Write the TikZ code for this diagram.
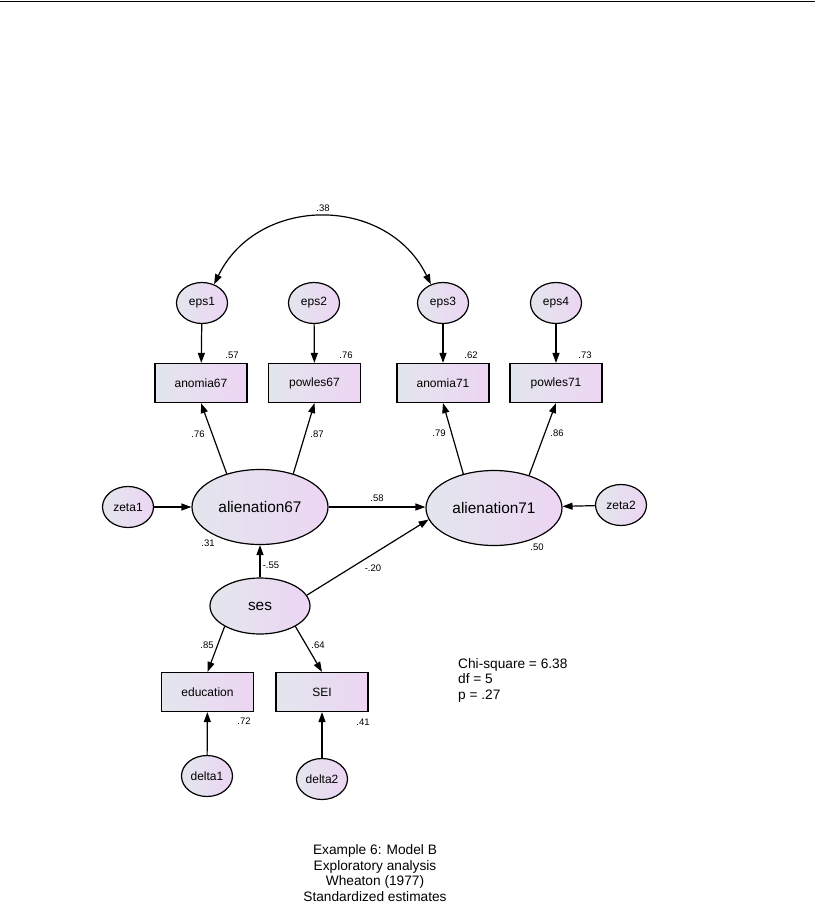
\documentclass[tikz,border=0pt]{standalone}
\usepackage{fontspec}
\setmainfont{Liberation Sans}
\usetikzlibrary{shapes.geometric,arrows.meta}
\definecolor{gleft}{RGB}{226,230,237}
\definecolor{gright}{RGB}{237,213,243}
\tikzset{
  shadefill/.style={draw, line width=1.2pt, left color=gleft, right color=gright},
  obs/.style={shadefill, rectangle, minimum width=92pt, minimum height=39pt, inner sep=0pt, font=\fontsize{12}{14}\selectfont},
  latent/.style={shadefill, ellipse, minimum width=136pt, minimum height=75pt, inner sep=0pt, font=\fontsize{15.4}{18}\selectfont},
  midlatent/.style={shadefill, ellipse, minimum width=100pt, minimum height=56pt, inner sep=0pt, font=\fontsize{15.4}{18}\selectfont},
  err/.style={shadefill, ellipse, minimum width=51pt, minimum height=41pt, inner sep=0pt, font=\fontsize{12}{14}\selectfont},
  est/.style={font=\fontsize{9.5}{11}\selectfont, inner sep=0pt},
  arr/.style={-{Triangle[length=10pt,width=7pt]}, line width=1.2pt},
  cov/.style={{Triangle[length=10pt,width=7pt]}-{Triangle[length=10pt,width=7pt]}, line width=1.2pt},
  infotext/.style={font=\fontsize{13.7}{15.6}\selectfont, inner sep=0pt},
}
\begin{document}
\begin{tikzpicture}[x=1pt,y=1pt]
  \useasboundingbox (0,0) rectangle (817,-907);
  \draw[line width=1.5pt] (0,-1.5) -- (815,-1.5);
  % error terms of the indicators
  \node[err] (eps1) at (202,-303) {eps1};
  \node[err] (eps2) at (314,-303) {eps2};
  \node[err] (eps3) at (443,-303) {eps3};
  \node[err] (eps4) at (556,-303) {eps4};
  % indicators
  \node[obs] (anomia67) at (201,-383) {anomia67};
  \node[obs] (powles67) at (314.5,-383) {powles67};
  \node[obs] (anomia71) at (443,-383) {anomia71};
  \node[obs] (powles71) at (556,-383) {powles71};
  % latent variables
  \node[latent] (alien67) at (260,-507) {alienation67};
  \node[latent] (alien71) at (494,-508) {alienation71};
  \node[err] (zeta1) at (128,-507) {zeta1};
  \node[err] (zeta2) at (621,-505) {zeta2};
  \node[midlatent] (ses) at (260,-606) {ses};
  % ses indicators
  \node[obs] (education) at (207.5,-692) {education};
  \node[obs] (SEI) at (322,-692) {SEI};
  \node[err] (delta1) at (207,-776) {delta1};
  \node[err] (delta2) at (322,-779) {delta2};
  % paths
  \draw[cov] (eps1.57) to[out=64,in=116,looseness=1.18] (eps3.123);
  \draw[arr] (eps1) -- (anomia67);
  \draw[arr] (eps2) -- (powles67);
  \draw[arr] (eps3) -- (anomia71);
  \draw[arr] (eps4) -- (powles71);
  \draw[arr] (alien67.135) -- (anomia67.south);
  \draw[arr] (alien67.45) -- (powles67.south);
  \draw[arr] (alien71.132) -- (anomia71.south);
  \draw[arr] (alien71.43) -- (powles71.south);
  \draw[arr] (zeta1) -- (alien67);
  \draw[arr] (zeta2) -- (alien71);
  \draw[arr] (alien67.east) -- (alien71.west |- alien67.east);
  \draw[arr] (ses) -- (alien67);
  \draw[arr] (ses.13) -- (alien71.190);
  \draw[arr] (ses.210) -- (education.north);
  \draw[arr] (ses.-30) -- (SEI.north);
  \draw[arr] (delta1) -- (education);
  \draw[arr] (delta2) -- (SEI);
  % estimates
  \node[est] at (323,-208) {.38};
  \node[est] at (232,-355) {.57};
  \node[est] at (346,-355) {.76};
  \node[est] at (471,-355) {.62};
  \node[est] at (585,-355) {.73};
  \node[est] at (198,-434) {.76};
  \node[est] at (317,-434) {.87};
  \node[est] at (439,-433) {.79};
  \node[est] at (557,-433) {.86};
  \node[est] at (377,-498) {.58};
  \node[est] at (208,-543) {.31};
  \node[est] at (271,-565) {-.55};
  \node[est] at (373,-568) {-.20};
  \node[est] at (537,-547) {.50};
  \node[est] at (207,-645) {.85};
  \node[est] at (318,-645) {.64};
  \node[est] at (244,-721) {.72};
  \node[est] at (363,-722) {.41};
  % fit and caption
  \node[infotext, anchor=north west, align=left] (fit) at (458,-658) {Chi-square = 6.38\\df = 5\\p = .27};
  \node[infotext, align=center] (caption) at (375,-873) {Example 6: Model B\\Exploratory analysis\\Wheaton (1977)\\Standardized estimates};
\end{tikzpicture}
\end{document}
